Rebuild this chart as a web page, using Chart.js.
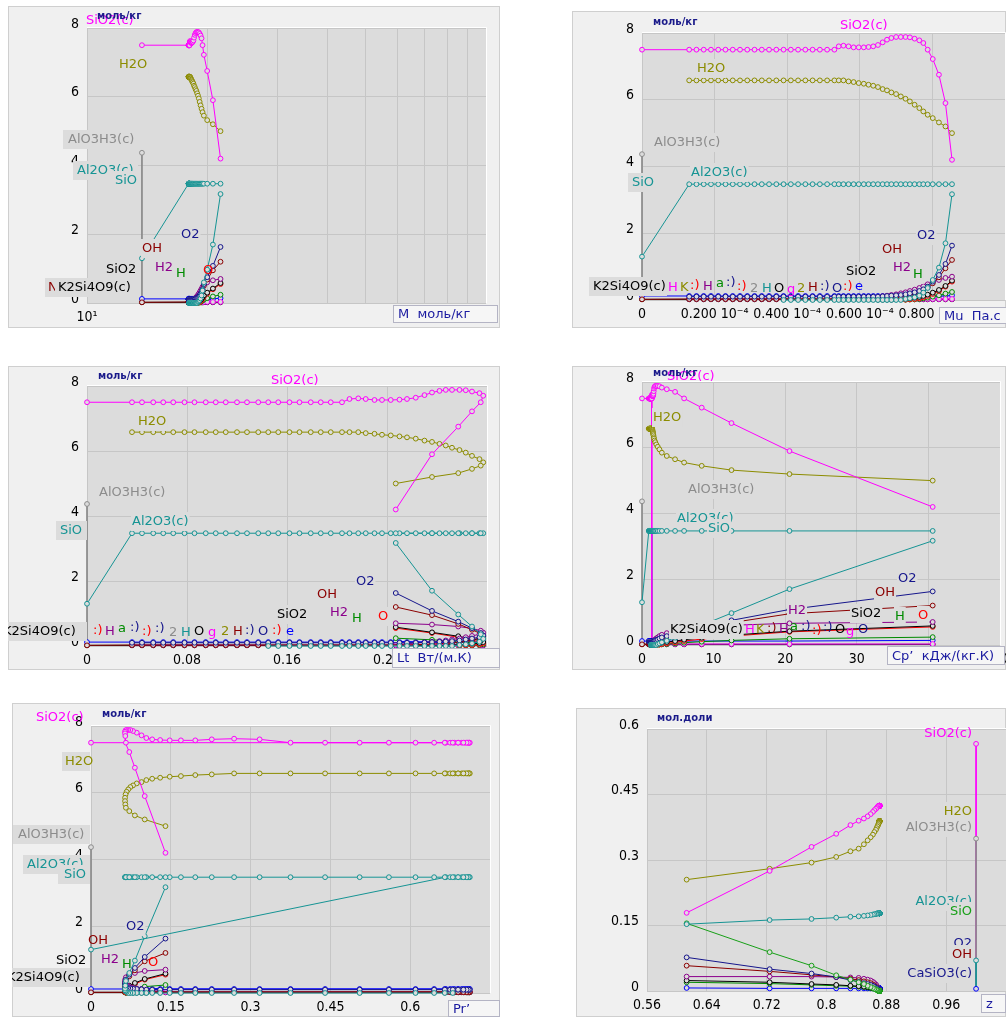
<!DOCTYPE html>
<html>
<head>
<meta charset="utf-8">
<script src="https://cdn.jsdelivr.net/npm/chart.js@4.4.1/dist/chart.umd.min.js"></script>
<style>
  body { margin: 0; background: #fff; width: 1006px; height: 1017px; position: relative; overflow: hidden; }
  canvas { position: absolute; }
</style>
</head>
<body>
<canvas id="c1"></canvas>
<canvas id="c2"></canvas>
<canvas id="c3"></canvas>
<canvas id="c4"></canvas>
<canvas id="c5"></canvas>
<canvas id="c6"></canvas>
<script>
// ---- data: one entry per calculation step (index 0 = first state) ----
// x quantities
const molarMass = [13.73, 17.97, 17.97, 17.98, 17.98, 17.99, 17.99, 18.0, 18.0, 18.01, 18.01, 18.02, 18.02, 18.03, 18.03, 18.04, 18.04, 18.05, 18.05, 18.06, 18.06, 18.07,
  18.1, 18.13, 18.17, 18.21, 18.25, 18.3, 18.35, 18.41, 18.48, 18.55, 18.63, 18.71, 18.8, 18.89, 18.98, 19.07, 19.16, 19.26, 19.37, 19.48, 19.63, 20.01, 20.68, 21.61];
const viscosity = [0, 0.13, 0.15, 0.17, 0.19, 0.21, 0.23, 0.25, 0.27, 0.29, 0.31, 0.33, 0.35, 0.37, 0.39, 0.41, 0.43, 0.45, 0.47, 0.49, 0.51, 0.53,
  0.542, 0.555, 0.569, 0.583, 0.597, 0.611, 0.624, 0.637, 0.650, 0.663, 0.675, 0.687, 0.700, 0.713, 0.726, 0.738, 0.751, 0.764, 0.775, 0.787, 0.801, 0.818, 0.836, 0.854]; // x 10^-4
const conductivity = [0, 0.036, 0.044, 0.053, 0.061, 0.069, 0.078, 0.086, 0.095, 0.103, 0.111, 0.120, 0.128, 0.137, 0.145, 0.153, 0.162, 0.170, 0.179, 0.187, 0.195, 0.204,
  0.210, 0.217, 0.223, 0.230, 0.236, 0.243, 0.250, 0.256, 0.263, 0.270, 0.276, 0.282, 0.287, 0.292, 0.298, 0.303, 0.308, 0.314, 0.317, 0.315, 0.308, 0.297, 0.276, 0.247];
const heatCapacity = [0, 0.95, 0.98, 1.0, 1.03, 1.05, 1.08, 1.1, 1.12, 1.14, 1.16, 1.18, 1.2, 1.22, 1.24, 1.26, 1.28, 1.3, 1.32, 1.34, 1.36, 1.37,
  1.4, 1.42, 1.44, 1.46, 1.48, 1.5, 1.53, 1.56, 1.6, 1.64, 1.68, 1.75, 1.85, 2.0, 2.2, 2.44, 2.77, 3.46, 4.62, 5.88, 8.34, 12.5, 20.6, 40.6];
const prandtl = [0, 0.667, 0.675, 0.683, 0.69, 0.697, 0.703, 0.708, 0.711, 0.712, 0.71, 0.706, 0.70, 0.69, 0.68, 0.665, 0.645, 0.61, 0.56, 0.505, 0.44,
  0.375, 0.317, 0.269, 0.227, 0.196, 0.169, 0.148, 0.13, 0.115, 0.104, 0.095, 0.086, 0.079, 0.074, 0.07, 0.067, 0.065, 0.064, 0.064, 0.0645, 0.0656, 0.072, 0.0825, 0.101, 0.14];
const mixZ = [1.0, 0.871, 0.871, 0.871, 0.871, 0.871, 0.871, 0.871, 0.871, 0.871, 0.871, 0.871, 0.871, 0.871, 0.871, 0.871, 0.871, 0.871, 0.871, 0.871, 0.871,
  0.8708, 0.8707, 0.8706, 0.8705, 0.8704, 0.8703, 0.8702, 0.8701, 0.870,
  0.8695, 0.869, 0.868, 0.867, 0.866, 0.864, 0.862, 0.859, 0.855, 0.85, 0.843, 0.832, 0.813, 0.78, 0.724, 0.613];

// species, моль/кг
const sio2c = [7.5, 7.5, 7.5, 7.5, 7.5, 7.5, 7.5, 7.5, 7.5, 7.5, 7.5, 7.5, 7.5, 7.5, 7.5, 7.5, 7.5, 7.5, 7.5, 7.5, 7.5, 7.5,
  7.6, 7.62, 7.6, 7.57, 7.57, 7.57, 7.58, 7.6, 7.64, 7.72, 7.8, 7.85, 7.88, 7.88, 7.88, 7.87, 7.83, 7.78, 7.7, 7.5, 7.22, 6.75, 5.9, 4.2];
const h2o = [null, 6.58, 6.58, 6.58, 6.58, 6.58, 6.58, 6.58, 6.58, 6.58, 6.58, 6.58, 6.58, 6.58, 6.58, 6.58, 6.58, 6.58, 6.58, 6.58, 6.58, 6.58, 6.58, 6.58,
  6.55, 6.53, 6.5, 6.48, 6.45, 6.42, 6.38, 6.32, 6.28, 6.22, 6.17, 6.1, 6.03, 5.95, 5.85, 5.75, 5.65, 5.55, 5.45, 5.32, 5.2, 5.0];
const al2o3c = [1.3, 3.47, 3.47, 3.47, 3.47, 3.47, 3.47, 3.47, 3.47, 3.47, 3.47, 3.47, 3.47, 3.47, 3.47, 3.47, 3.47, 3.47, 3.47, 3.47, 3.47, 3.47, 3.47,
  3.47, 3.47, 3.47, 3.47, 3.47, 3.47, 3.47, 3.47, 3.47, 3.47, 3.47, 3.47, 3.47, 3.47, 3.47, 3.47, 3.47, 3.47, 3.47, 3.47, 3.47, 3.47, 3.47];
const alo3h3c = [4.37];
const sio = [null, null, null, null, null, null, null, null, null, null, null, null, null, null,
  0, 0, 0, 0, 0, 0, 0, 0, 0, 0, 0, 0, 0, 0, 0, 0, 0, 0, 0, 0, 0, 0,
  0.03, 0.05, 0.08, 0.13, 0.22, 0.36, 0.6, 0.97, 1.7, 3.17];
const o2 = [null, 0.1, 0.1, 0.1, 0.1, 0.1, 0.1, 0.1, 0.1, 0.1, 0.1, 0.1, 0.1, 0.1, 0.1, 0.1, 0.1, 0.1, 0.1, 0.1, 0.1, 0.1, 0.1, 0.1, 0.1, 0.1, 0.1, 0.1, 0.1, 0.1,
  0.1, 0.11, 0.12, 0.13, 0.14, 0.15, 0.17, 0.2, 0.23, 0.27, 0.32, 0.4, 0.55, 0.75, 1.08, 1.63];
const oh = [0.02, 0.03, 0.03, 0.03, 0.03, 0.03, 0.03, 0.03, 0.03, 0.03, 0.03, 0.03, 0.03, 0.03, 0.03, 0.03, 0.03, 0.03, 0.03, 0.03, 0.03, 0.03, 0.03, 0.03, 0.03, 0.03, 0.03, 0.03, 0.03, 0.03,
  0.04, 0.05, 0.06, 0.07, 0.08, 0.1, 0.12, 0.15, 0.19, 0.24, 0.3, 0.38, 0.5, 0.68, 0.95, 1.2];
const h2 = [null, 0.03, 0.03, 0.03, 0.03, 0.03, 0.03, 0.03, 0.03, 0.03, 0.03, 0.03, 0.03, 0.03, 0.03, 0.03, 0.03, 0.03, 0.03, 0.03, 0.03, 0.03, 0.03, 0.03, 0.03, 0.03, 0.03, 0.03,
  0.05, 0.07, 0.09, 0.11, 0.13, 0.15, 0.17, 0.2, 0.23, 0.27, 0.31, 0.36, 0.41, 0.47, 0.54, 0.6, 0.66, 0.7];
const sio2g = [null, null, null, null, null, null, null, null, null, null, null, null, null, null, null, null, null, null, null, null, null, null, null, null, null, null, null, null, null, null,
  0.01, 0.01, 0.01, 0.01, 0.02, 0.03, 0.04, 0.05, 0.07, 0.09, 0.12, 0.16, 0.22, 0.3, 0.42, 0.58];
const o = [null, null, null, null, null, null, null, null, null, null, null, null, null, null, null, null, null, null, null, null, null, null, null, null, null, null, null, null, null, null, null, null, null, null, null, null,
  0.01, 0.02, 0.03, 0.05, 0.08, 0.12, 0.18, 0.27, 0.4, 0.55];
const h = [null, null, null, null, null, null, null, null, null, null, null, null, null, null, null, null, null, null, null, null, null, null, null, null, null, null, null, null, null, null, null, null, null, null, null, null,
  0.01, 0.015, 0.02, 0.03, 0.05, 0.07, 0.1, 0.14, 0.19, 0.24];
const kh = [null, null, null, null, null, null, null, null, null, null, null, null, null, null, null, null, null, null, null, null, null, null, null, null, null, null, null, null, null, null, null,
  0.03, 0.03, 0.03, 0.03, 0.03, 0.03, 0.03, 0.03, 0.03, 0.03, 0.03, 0.03, 0.03, 0.03, 0.03];
const koh = [0.12, 0.12, 0.12, 0.12, 0.12, 0.12, 0.12, 0.12, 0.12, 0.12, 0.12, 0.12, 0.12, 0.12, 0.12, 0.12, 0.12, 0.12, 0.12, 0.12, 0.12, 0.12, 0.12,
  0.12, 0.12, 0.12, 0.12, 0.12, 0.12, 0.12, 0.12, 0.12, 0.12, 0.12, 0.12, 0.12, 0.12, 0.12, 0.12, 0.12, 0.12, 0.12, 0.12, 0.12, 0.12, 0.14];
const k2si4o9c = [0.02, 0.02, 0.02, 0.02, 0.02, 0.02, 0.02, 0.02, 0.02, 0.02, 0.02, 0.02, 0.02, 0.02, 0.02, 0.02, 0.02, 0.02, 0.02, 0.02, 0.02, 0.02, 0.02,
  0.02, 0.02, 0.02, 0.02, 0.02, 0.02, 0.02, 0.02, 0.02, 0.02, 0.02, 0.02, 0.02, 0.02, 0.02, 0.02, 0.02, 0.02, 0.02, 0.02, 0.02, 0.02, 0.02];

// species, мол. доли
const xSio2c = [0.566, 0.424, 0.424, 0.424, 0.424, 0.424, 0.424, 0.424, 0.424, 0.424, 0.424, 0.424, 0.424, 0.424, 0.424, 0.424, 0.424, 0.424, 0.424, 0.424, 0.424,
  0.424, 0.424, 0.424, 0.424, 0.424, 0.424, 0.424, 0.424, 0.424, 0.424,
  0.423, 0.421, 0.419, 0.417, 0.414, 0.41, 0.405, 0.40, 0.395, 0.39, 0.38, 0.36, 0.33, 0.275, 0.179];
const xH2o = [null, 0.389, 0.389, 0.389, 0.389, 0.389, 0.389, 0.389, 0.389, 0.389, 0.389, 0.389, 0.389, 0.389, 0.389, 0.389, 0.389, 0.389, 0.389, 0.389, 0.389,
  0.389, 0.389, 0.389, 0.389, 0.389, 0.388, 0.387, 0.386, 0.385, 0.383,
  0.38, 0.377, 0.373, 0.369, 0.364, 0.358, 0.352, 0.345, 0.336, 0.326, 0.32, 0.307, 0.294, 0.28, 0.255];
const xAl2o3c = [0.07, 0.178, 0.178, 0.178, 0.178, 0.178, 0.178, 0.178, 0.178, 0.178, 0.178, 0.178, 0.178, 0.178, 0.178, 0.178, 0.178, 0.178, 0.178, 0.178, 0.178,
  0.178, 0.178, 0.178, 0.178, 0.178, 0.178, 0.178, 0.178, 0.178, 0.178, 0.178, 0.178,
  0.177, 0.176, 0.176, 0.175, 0.174, 0.173, 0.172, 0.171, 0.17, 0.168, 0.165, 0.1625, 0.153];
const xAlo3h3c = [0.349];
const xSio = [null, 0, 0, 0, 0, 0, 0, 0, 0, 0, 0, 0, 0, 0, 0, 0, 0, 0, 0, 0, 0, 0, 0, 0, 0, 0, 0, 0, 0, 0, 0,
  0.001, 0.002, 0.003, 0.004, 0.005, 0.007, 0.009, 0.012, 0.016, 0.02, 0.026, 0.036, 0.058, 0.089, 0.155];
const xO2 = [null, 0.004, 0.004, 0.004, 0.004, 0.004, 0.004, 0.004, 0.004, 0.004, 0.004, 0.004, 0.004, 0.004, 0.004, 0.004, 0.004, 0.004, 0.004, 0.004, 0.004,
  0.004, 0.004, 0.004, 0.004, 0.004, 0.004, 0.004, 0.004, 0.004, 0.004,
  0.005, 0.006, 0.007, 0.008, 0.01, 0.012, 0.014, 0.016, 0.018, 0.021, 0.025, 0.032, 0.04, 0.05, 0.077];
const xOh = [null, 0.002, 0.002, 0.002, 0.002, 0.002, 0.002, 0.002, 0.002, 0.002, 0.002, 0.002, 0.002, 0.002, 0.002, 0.002, 0.002, 0.002, 0.002, 0.002, 0.002,
  0.002, 0.002, 0.002, 0.002, 0.002, 0.002, 0.002, 0.002, 0.002, 0.002,
  0.004, 0.006, 0.008, 0.01, 0.012, 0.015, 0.018, 0.02, 0.022, 0.025, 0.028, 0.032, 0.037, 0.045, 0.058];
const xH2 = [null, 0.003, 0.003, 0.003, 0.003, 0.003, 0.003, 0.003, 0.003, 0.003, 0.003, 0.003, 0.003, 0.003, 0.003, 0.003, 0.003, 0.003, 0.003, 0.003, 0.003,
  0.003, 0.003, 0.003, 0.003, 0.003, 0.003, 0.003, 0.003, 0.003, 0.003,
  0.006, 0.009, 0.012, 0.015, 0.018, 0.021, 0.024, 0.026, 0.028, 0.03, 0.031, 0.032, 0.033, 0.033, 0.033];
const xSio2g = [null, 0.001, 0.001, 0.001, 0.001, 0.001, 0.001, 0.001, 0.001, 0.001, 0.001, 0.001, 0.001, 0.001, 0.001, 0.001, 0.001, 0.001, 0.001, 0.001, 0.001,
  0.001, 0.001, 0.001, 0.001, 0.001, 0.001, 0.001, 0.001, 0.001, 0.001,
  0.002, 0.003, 0.004, 0.005, 0.006, 0.007, 0.008, 0.009, 0.01, 0.011, 0.012, 0.014, 0.016, 0.02, 0.024];
const xH = [null, 0.001, 0.001, 0.001, 0.001, 0.001, 0.001, 0.001, 0.001, 0.001, 0.001, 0.001, 0.001, 0.001, 0.001, 0.001, 0.001, 0.001, 0.001, 0.001, 0.001,
  0.001, 0.001, 0.001, 0.001, 0.001, 0.001, 0.001, 0.001, 0.001, 0.001,
  0.001, 0.002, 0.003, 0.004, 0.005, 0.006, 0.007, 0.008, 0.009, 0.01, 0.011, 0.012, 0.014, 0.017, 0.02];
const xKoh = [0.005, 0.006, 0.006, 0.006, 0.006, 0.006, 0.006, 0.006, 0.006, 0.006, 0.006, 0.006, 0.006, 0.006, 0.006, 0.006, 0.006, 0.006, 0.006, 0.006, 0.006,
  0.006, 0.006, 0.006, 0.006, 0.006, 0.006, 0.006, 0.006, 0.006, 0.006,
  0.006, 0.006, 0.006, 0.006, 0.006, 0.006, 0.006, 0.006, 0.006, 0.006, 0.006, 0.006, 0.006, 0.006, 0.007];

// tick values
const massTicks = [10, 20, 30, 40, 50, 60, 70, 80, 90, 100];
const viscTicks = [0, 0.2, 0.4, 0.6, 0.8, 1.0];
const condTicks = [0, 0.08, 0.16, 0.24, 0.32];
const cpTicks = [0, 10, 20, 30, 40, 50];
const prTicks = [0, 0.15, 0.3, 0.45, 0.6, 0.75];
const zTicks = [0.56, 0.64, 0.72, 0.8, 0.88, 0.96, 1.04];
const molTicks = [0, 2, 4, 6, 8];
const fracTicks = [0, 0.15, 0.3, 0.45, 0.6];

// ---- styling ----
const MAG = '#ff00ff', OLV = '#8c8c00', GRY = '#8c8c8c', TEAL = '#169494', NAVY = '#16168c',
      DRED = '#8b0000', PURP = '#8b008b', GRN = '#008b00', GRN2 = '#18a018', RED = '#ff0000',
      BLK = '#000000', BLUE = '#0000ff';
const PANEL_BG = '#f0f0f0', PLOT_BG = '#dcdcdc', GRID = '#c6c6c6';
const tickFont = { family: '"Liberation Sans Narrow", "DejaVu Sans Condensed", "DejaVu Sans", sans-serif', size: 14 };

const massSeries = [
  [sio2c, MAG], [h2o, OLV], [al2o3c, TEAL], [sio, TEAL], [o2, NAVY], [oh, DRED], [h2, PURP],
  [sio2g, BLK], [o, RED], [h, GRN], [kh, MAG], [koh, BLUE], [k2si4o9c, BLK]
];
const fracSeries = [
  [xSio2c, MAG], [xH2o, OLV], [xAl2o3c, TEAL], [xSio, GRN2], [xO2, NAVY], [xOh, DRED],
  [xH2, PURP], [xSio2g, BLK], [xH, GRN], [xKoh, BLUE]
];

function series(xs, ys, color, first, extra) {
  const data = [];
  for (let i = first || 0; i < ys.length; i++) data.push({ x: xs[i], y: ys[i] });
  return Object.assign({
    data, showLine: true, borderColor: color, borderWidth: 1, spanGaps: false,
    pointRadius: 2.4, pointBorderColor: color, pointBackgroundColor: PLOT_BG,
    pointBorderWidth: 1, pointHoverRadius: 0, clip: 4
  }, extra || {});
}
// vertical line from a value down to zero at the same x
function drop(xs, ys, i, color, r) {
  return series([xs[i], xs[i]], [ys[i], 0], color, 0, { pointRadius: [r, 0] });
}
function massDatasets(xs, extraDrops) {
  const sets = massSeries.map(([ys, c]) => series(xs, ys, c, 0));
  (extraDrops || []).forEach(([ys, i, c]) => sets.push(drop(xs, ys, i, c, 0)));
  sets.push(drop(xs, alo3h3c, 0, GRY, 2.4));
  return sets;
}
const plain = v => String(+(+v).toFixed(4));

function makeChart(id, frame, plot, xOpts, yOpts, datasets, labels, unit, title) {
  const [fx, fy, fw, fh] = frame;
  const [pl, pt, pr, pb] = plot;
  const cv = document.getElementById(id);
  cv.width = fw; cv.height = fh;
  cv.style.left = fx + 'px'; cv.style.top = fy + 'px';
  cv.style.width = fw + 'px'; cv.style.height = fh + 'px';

  const decor = {
    id: 'decor',
    beforeDraw(chart) {
      const { ctx, chartArea: a } = chart;
      ctx.save();
      ctx.fillStyle = PANEL_BG; ctx.fillRect(0, 0, fw, fh);
      ctx.strokeStyle = '#cfcfcf'; ctx.lineWidth = 1; ctx.strokeRect(0.5, 0.5, fw - 1, fh - 1);
      ctx.fillStyle = PLOT_BG; ctx.fillRect(a.left, a.top, a.right - a.left, a.bottom - a.top);
      ctx.restore();
    },
    afterDraw(chart) {
      const { ctx, chartArea: a } = chart;
      ctx.save();
      ctx.strokeStyle = '#ffffff'; ctx.lineWidth = 1;
      ctx.beginPath();
      ctx.moveTo(a.left, a.top - 0.5); ctx.lineTo(a.right + 0.5, a.top - 0.5); ctx.lineTo(a.right + 0.5, a.bottom);
      ctx.stroke();

      ctx.font = '13px "DejaVu Sans", sans-serif';
      ctx.textBaseline = 'middle';
      labels.forEach(([t, c, x, y, box, align]) => {
        const w = ctx.measureText(t).width;
        const lx = (align === 'r' ? x - w : x) - fx, ly = y - fy;
        if (box) {
          let bl = lx - 1, br = lx + w + 1;
          if (Array.isArray(box)) { bl = box[0] - fx; br = box[1] - fx; }
          ctx.fillStyle = PLOT_BG;
          ctx.fillRect(bl, ly - 10, br - bl, 19);
        }
        ctx.fillStyle = c;
        ctx.fillText(t, lx, ly);
      });

      ctx.font = 'bold 10px "DejaVu Sans", sans-serif';
      ctx.fillStyle = '#1a1a8a';
      ctx.fillText(unit[0], unit[1] - fx, unit[2] - fy);

      const [tt, tx, ty, tw, th] = title;
      ctx.fillStyle = '#f6f6f6';
      ctx.fillRect(tx - fx, ty - fy, tw, th);
      ctx.strokeStyle = '#b4b4c4';
      ctx.strokeRect(tx - fx + 0.5, ty - fy + 0.5, tw - 1, th - 1);
      ctx.font = '13px "DejaVu Sans", sans-serif';
      ctx.fillStyle = '#1a1aa0';
      ctx.fillText(tt, tx - fx + 5, ty - fy + th / 2 + 1);
      ctx.restore();
    }
  };

  const xScale = {
    type: xOpts.type || 'linear', min: xOpts.min, max: xOpts.max, border: { display: false },
    grid: { color: GRID, drawTicks: false },
    afterBuildTicks: s => { s.ticks = xOpts.values.map(v => ({ value: v })); },
    afterFit: s => { s.height = fy + fh - pb; s.paddingLeft = 0; s.paddingRight = 0; },
    ticks: { padding: 6, maxRotation: 0, autoSkip: false, color: '#000', font: tickFont, callback: xOpts.label || plain }
  };
  const yScale = {
    type: 'linear', min: yOpts.min, max: yOpts.max, border: { display: false },
    grid: { color: GRID, drawTicks: false },
    afterBuildTicks: s => { s.ticks = yOpts.values.map(v => ({ value: v })); },
    afterFit: s => { s.width = pl - fx; s.paddingTop = 0; s.paddingBottom = 0; },
    ticks: { padding: 8, labelOffset: -4, autoSkip: false, color: '#000', font: tickFont, callback: plain }
  };

  return new Chart(cv, {
    type: 'scatter',
    data: { datasets },
    options: {
      responsive: false, animation: false, devicePixelRatio: 1,
      layout: { autoPadding: false, padding: { left: 0, top: pt - fy, right: fx + fw - pr, bottom: 0 } },
      plugins: { legend: { display: false }, tooltip: { enabled: false } },
      scales: { x: xScale, y: yScale }
    },
    plugins: [decor]
  });
}

const molY = { min: 0, max: 8, values: molTicks };

// 1: M
makeChart('c1', [8, 6, 492, 322], [87, 28, 486, 303],
  { type: 'logarithmic', min: 10, max: 100, values: massTicks, label: v => (v === 10 ? '10\u00b9' : '') },
  molY, massDatasets(molarMass),
  [
    ['SiO2(c)', MAG, 86, 21, 0], ['H2O', OLV, 119, 65, 1],
    ['AlO3H3(c)', GRY, 68, 140, [63, 138]], ['Al2O3(c)', TEAL, 77, 171, [73, 138]], ['SiO', TEAL, 115, 181, [107, 138]],
    ['O2', NAVY, 181, 235, 1], ['OH', DRED, 142, 249, 1], ['SiO2', BLK, 106, 270, 0],
    ['H2', PURP, 155, 268, 1], ['H', GRN, 176, 274, 1], ['O', RED, 203, 271, 0],
    ['N', DRED, 48, 288, [45, 56]], ['K2Si4O9(c)', BLK, 58, 288, [55, 138]]
  ],
  ['моль/кг', 97, 16], ['M  моль/кг', 393, 305, 105, 18]);

// 2: Mu
makeChart('c2', [572, 11, 434, 317], [642, 33, 1005, 300],
  { min: 0, max: 1, values: viscTicks, label: v => (v === 0 ? '0' : v.toFixed(3) + ' 10\u207b\u2074') },
  molY, massDatasets(viscosity),
  [
    ['SiO2(c)', MAG, 840, 26, 0], ['H2O', OLV, 697, 69, 1], ['AlO3H3(c)', GRY, 654, 143, 1],
    ['Al2O3(c)', TEAL, 691, 173, 1], ['SiO', TEAL, 632, 183, [628, 652]],
    ['O2', NAVY, 917, 236, 1], ['OH', DRED, 882, 250, 1], ['SiO2', BLK, 846, 272, 1],
    ['H2', PURP, 893, 268, 1], ['H', GRN, 913, 275, 1],
    ['K2Si4O9(c)', BLK, 593, 287, [589, 667]],
    ['H', MAG, 668, 288, 0], ['K', OLV, 680, 288, 0], [':)', RED, 690, 286, 0], ['H', PURP, 703, 287, 0],
    ['a', GRN, 716, 284, 0], [':)', NAVY, 726, 283, 0], [':)', RED, 737, 287, 0], ['2', GRY, 750, 289, 0],
    ['H', TEAL, 762, 289, 0], ['O', BLK, 774, 289, 0], ['g', MAG, 787, 290, 0], ['2', OLV, 797, 289, 0],
    ['H', DRED, 808, 288, 0], [':)', NAVY, 820, 287, 0], ['O', NAVY, 832, 289, 0], [':)', RED, 843, 287, 0],
    ['e', BLUE, 855, 287, 0]
  ],
  ['моль/кг', 653, 22], ['Mu  Па.с', 939, 307, 70, 17]);

// 3: Lt
makeChart('c3', [8, 366, 492, 304], [87, 386, 487, 646],
  { min: 0, max: 0.32, values: condTicks },
  molY, massDatasets(conductivity),
  [
    ['SiO2(c)', MAG, 271, 381, 0], ['H2O', OLV, 138, 422, 1], ['AlO3H3(c)', GRY, 99, 493, 1],
    ['Al2O3(c)', TEAL, 132, 522, 1], ['SiO', TEAL, 60, 531, [56, 87]],
    ['O2', NAVY, 356, 582, 1], ['OH', DRED, 317, 595, 1], ['SiO2', BLK, 277, 615, 1],
    ['H2', PURP, 330, 613, 1], ['H', GRN, 352, 619, 1], ['O', RED, 378, 617, 1],
    ['K2Si4O9(c)', BLK, 3, 632, [8, 87]],
    [':)', RED, 93, 631, 0], ['H', PURP, 105, 632, 0], ['a', GRN, 118, 629, 0], [':)', NAVY, 130, 628, 0],
    [':)', RED, 142, 632, 0], [':)', NAVY, 155, 629, 0], ['2', GRY, 169, 633, 0], ['H', TEAL, 181, 633, 0],
    ['O', BLK, 194, 632, 0], ['g', MAG, 208, 633, 0], ['2', OLV, 221, 632, 0], ['H', DRED, 233, 632, 0],
    [':)', NAVY, 245, 631, 0], ['O', NAVY, 258, 632, 0], [':)', RED, 272, 631, 0], ['e', BLUE, 286, 632, 0]
  ],
  ['моль/кг', 98, 376], ['Lt  Вт/(м.К)', 392, 648, 108, 20]);

// 4: Cp'
makeChart('c4', [572, 366, 434, 304], [642, 382, 1000, 645],
  { min: 0, max: 50, values: cpTicks },
  molY, massDatasets(heatCapacity, [[sio2c, 21, MAG], [al2o3c, 21, TEAL]]),
  [
    ['SiO2(c)', MAG, 667, 377, 0], ['H2O', OLV, 653, 418, 1], ['AlO3H3(c)', GRY, 688, 490, 1],
    ['Al2O3(c)', TEAL, 677, 519, 1], ['SiO', TEAL, 708, 529, 1],
    ['O2', NAVY, 898, 579, 1], ['OH', DRED, 875, 593, 1], ['H2', PURP, 788, 611, 1],
    ['SiO2', BLK, 851, 614, 1], ['H', GRN, 895, 617, 1], ['O', RED, 918, 616, 1],
    ['K2Si4O9(c)', BLK, 670, 630, 1],
    ['H', MAG, 745, 630, 0], ['K', OLV, 756, 630, 0], [':)', DRED, 767, 629, 0], ['H', PURP, 779, 630, 0],
    ['a', GRN, 790, 627, 0], [':)', NAVY, 801, 627, 0], [':)', RED, 812, 631, 0], [':)', NAVY, 823, 628, 0],
    ['O', BLK, 835, 630, 0], ['g', MAG, 846, 632, 0], ['O', NAVY, 858, 630, 0]
  ],
  ['моль/кг', 653, 373], ['Cp\u2019  кДж/(кг.К)', 887, 646, 118, 19]);

// 5: Pr'
makeChart('c5', [12, 703, 488, 314], [91, 726, 490, 993],
  { min: 0, max: 0.75, values: prTicks },
  molY, massDatasets(prandtl),
  [
    ['SiO2(c)', MAG, 36, 718, 0], ['H2O', OLV, 65, 762, [62, 90]],
    ['AlO3H3(c)', GRY, 18, 835, [13, 90]], ['Al2O3(c)', TEAL, 27, 865, [23, 90]], ['SiO', TEAL, 64, 875, [58, 90]],
    ['O2', NAVY, 126, 927, 1], ['OH', DRED, 88, 941, 0], ['SiO2', BLK, 56, 961, 0],
    ['H2', PURP, 101, 960, 1], ['H', GRN, 122, 965, 0], ['O', RED, 148, 963, 0],
    ['K2Si4O9(c)', BLK, 7, 978, [12, 90]]
  ],
  ['моль/кг', 102, 714], ['Pr\u2019', 448, 1000, 52, 17]);

// 6: z (mole fractions)
(function () {
  const sets = fracSeries.map(([ys, c]) => series(mixZ, ys, c, 1));
  sets.push(drop(mixZ, xKoh, 0, BLUE, 2.4));
  sets.push(drop(mixZ, xAl2o3c, 0, TEAL, 2.4));
  sets.push(drop(mixZ, xAlo3h3c, 0, GRY, 2.4));
  sets.push(drop(mixZ, xSio2c, 0, MAG, 2.4));
  makeChart('c6', [576, 708, 430, 309], [647, 729, 1006, 991],
    { min: 0.56, max: 1.04, values: zTicks },
    { min: 0, max: 0.6, values: fracTicks }, sets,
    [
      ['SiO2(c)', MAG, 972, 734, 0, 'r'], ['H2O', OLV, 972, 812, 1, 'r'], ['AlO3H3(c)', GRY, 972, 828, 1, 'r'],
      ['Al2O3(c)', TEAL, 972, 902, 1, 'r'], ['SiO', GRN2, 972, 912, 1, 'r'],
      ['O2', NAVY, 972, 944, 1, 'r'], ['OH', DRED, 972, 955, 1, 'r'], ['CaSiO3(c)', NAVY, 972, 974, 1, 'r']
    ],
    ['мол.доли', 657, 718], ['z', 981, 994, 25, 19]);
})();
</script>
</body>
</html>
